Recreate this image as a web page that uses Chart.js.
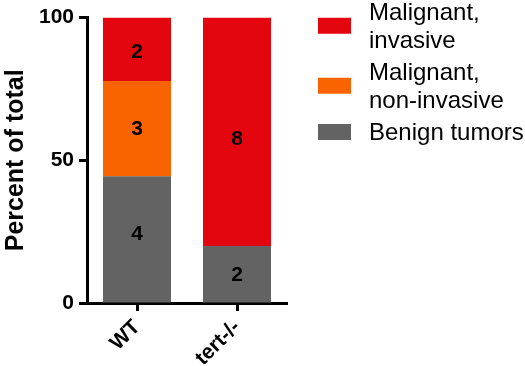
<!DOCTYPE html>
<html>
<head>
<meta charset="utf-8">
<script src="https://cdn.jsdelivr.net/npm/chart.js@4.4.1/dist/chart.umd.min.js"></script>
<style>
  html, body { margin: 0; padding: 0; background: #fff; }
  #wrap { width: 525px; height: 366px; }
</style>
</head>
<body>
<div id="wrap"><canvas id="c" width="525" height="366"></canvas></div>
<script>
// Genotypes on the x axis
const categories = ['WT', 'tert-/-'];

// Tumour counts per genotype
const benignCounts = [4, 2];
const nonInvasiveCounts = [3, 0];
const invasiveCounts = [2, 8];

// Legend text, one entry per line
const benignLabel = ['Benign tumors'];
const nonInvasiveLabel = ['Malignant,', 'non-invasive'];
const invasiveLabel = ['Malignant,', 'invasive'];

// Y axis ticks
const yTicks = [0, 50, 100];

const FONT = 'Arial, "Liberation Sans", Helvetica, sans-serif';

const totals = categories.map((_, i) => benignCounts[i] + nonInvasiveCounts[i] + invasiveCounts[i]);
const toPercent = counts => counts.map((v, i) => v / totals[i] * 100);

const datasets = [
  { label: benignLabel, counts: benignCounts, data: toPercent(benignCounts), backgroundColor: '#636363' },
  { label: nonInvasiveLabel, counts: nonInvasiveCounts, data: toPercent(nonInvasiveCounts), backgroundColor: '#FA6400' },
  { label: invasiveLabel, counts: invasiveCounts, data: toPercent(invasiveCounts), backgroundColor: '#E3060F' }
].map(d => Object.assign(d, { barPercentage: 0.68, categoryPercentage: 1.0, borderWidth: 0 }));

// Count written inside each segment (with a small hand nudge per label)
const countLabels = {
  id: 'countLabels',
  afterDatasetsDraw(chart, args, opts) {
    const ctx = chart.ctx;
    const nudge = opts.nudge || [];
    ctx.save();
    ctx.font = 'bold 21px ' + FONT;
    ctx.fillStyle = '#000';
    ctx.textAlign = 'center';
    ctx.textBaseline = 'middle';
    chart.data.datasets.forEach((ds, di) => {
      const meta = chart.getDatasetMeta(di);
      meta.data.forEach((el, i) => {
        const n = ds.counts[i];
        if (!n) return;
        const dy = (nudge[di] && nudge[di][i]) || 0;
        ctx.fillText(String(n), el.x, (el.y + el.base) / 2 + 1 + dy);
      });
    });
    ctx.restore();
  }
};

// Legend at the right, top entry = top of stack
const sideLegend = {
  id: 'sideLegend',
  afterDraw(chart) {
    const ctx = chart.ctx;
    const area = chart.chartArea;
    const boxX = area.right + 31, boxW = 33, boxH = 16;
    const textX = boxX + 51;
    const lineH = 27.5, gap = 5;
    let baseline = 20;
    ctx.save();
    ctx.font = '24px ' + FONT;
    ctx.textAlign = 'left';
    ctx.textBaseline = 'alphabetic';
    chart.data.datasets.slice().reverse().forEach(ds => {
      const lines = ds.label;
      const first = baseline;
      lines.forEach((t, k) => {
        ctx.fillStyle = '#000';
        ctx.fillText(t, textX, first + k * lineH);
      });
      const midBaseline = first + (lines.length - 1) * lineH / 2;
      ctx.fillStyle = ds.backgroundColor;
      ctx.fillRect(boxX, midBaseline - 8 - boxH / 2, boxW, boxH);
      baseline = first + lines.length * lineH + gap;
    });
    ctx.restore();
  }
};

new Chart(document.getElementById('c'), {
  type: 'bar',
  data: { labels: categories, datasets },
  options: {
    responsive: false,
    animation: false,
    layout: { padding: { left: 0, right: 238, top: 17, bottom: 0 } },
    plugins: {
      legend: { display: false },
      tooltip: { enabled: false },
      countLabels: { nudge: [[-6, 0], [0, 0], [2, 6]] }
    },
    scales: {
      x: {
        stacked: true,
        grid: { display: true, drawOnChartArea: false, offset: false, tickLength: 8, tickWidth: 3, tickColor: '#000' },
        border: { display: true, color: '#000', width: 3 },
        ticks: { color: '#000', font: { family: FONT, size: 21, weight: 'bold' }, minRotation: 45, maxRotation: 45, padding: 4 },
        afterFit(scale) { scale.height = 63; }
      },
      y: {
        stacked: true,
        min: 0, max: 100,
        afterBuildTicks(scale) { scale.ticks = yTicks.map(v => ({ value: v })); },
        grid: { display: true, drawOnChartArea: false, tickLength: 8, tickWidth: 3, tickColor: '#000' },
        border: { display: true, color: '#000', width: 3 },
        ticks: { color: '#000', font: { family: FONT, size: 21, weight: 'bold' }, padding: 5 },
        title: { display: true, text: 'Percent of total', color: '#000', font: { family: FONT, size: 25, weight: 'bold' }, padding: { top: 1, bottom: 0 } },
        afterFit(scale) { scale.width = 87; }
      }
    }
  },
  plugins: [countLabels, sideLegend]
});
</script>
</body>
</html>
